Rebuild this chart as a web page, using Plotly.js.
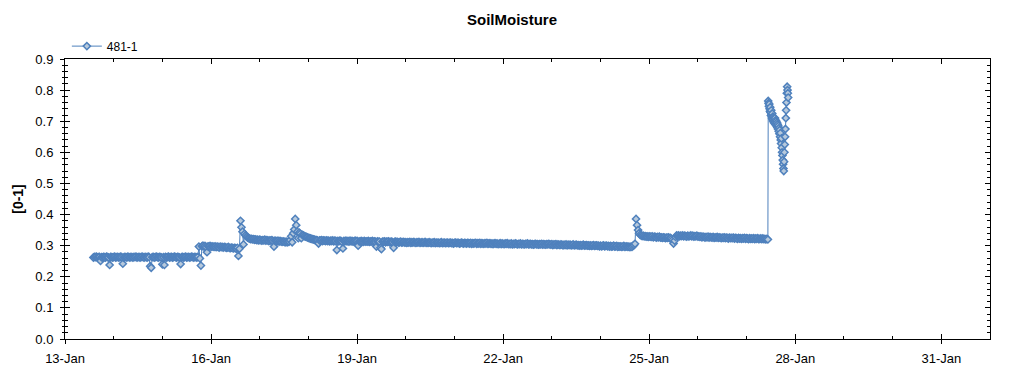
<!DOCTYPE html>
<html>
<head>
<meta charset="utf-8">
<script src="https://cdn.plot.ly/plotly-3.0.1.min.js"></script>
<style>html,body{margin:0;padding:0;background:#fff;}#chart{width:1024px;height:375px;}</style>
</head>
<body>
<div id="chart"></div>
<script>
// ---- data ----
var seriesName = '481-1';
var regularStart = '2014-01-13T14:00:00Z';   // logger, 30-minute interval
var regularStepMinutes = 30;
var moisture = [
.262,.264,.263,.265,.262,.263,.264,.251,.263,.262,
.264,.263,.262,.265,.263,.262,.238,.264,.263,.262,
.263,.265,.262,.263,.264,.262,.263,.265,.263,.242,
.262,.264,.263,.262,.265,.263,.262,.264,.263,.262,
.264,.263,.265,.262,.263,.264,.262,.263,.265,.263,
.262,.264,.263,.262,.265,.263,.234,.229,.263,.264,
.262,.263,.265,.263,.262,.264,.263,.262,.240,.263,
.238,.264,.262,.263,.265,.262,.263,.264,.262,.263,
.265,.263,.262,.264,.263,.262,.241,.263,.264,.262,
.263,.265,.262,.263,.264,.262,.263,.265,.263,.262,
.264,.263,.262,.264,.297,.259,.236,.298,.300,.297,
.299,.296,.279,.298,.297,.299,.296,.298,.297,.296,
.298,.295,.297,.296,.294,.297,.295,.296,.294,.296,
.295,.293,.294,.296,.293,.292,.294,.293,.291,.293,
.292,.290,.293,.267,.290,.380,.359,.345,.304,.338,
.333,.329,.326,.324,.323,.321,.322,.320,.321,.319,
.320,.318,.319,.317,.319,.318,.316,.318,.317,.319,
.316,.318,.317,.315,.317,.316,.318,.315,.297,.316,
.315,.314,.316,.313,.315,.314,.312,.314,.313,.311,
.313,.311,.312,.313,.318,.330,.311,.340,.352,.386,
.366,.345,.324,.342,.338,.324,.335,.333,.331,.329,
.328,.327,.325,.324,.323,.322,.321,.320,.319,.318,
.318,.317,.307,.317,.316,.318,.315,.317,.316,.315,
.317,.315,.316,.314,.316,.315,.317,.314,.316,.315,
.286,.315,.314,.316,.315,.313,.291,.315,.314,.316,
.314,.315,.313,.316,.314,.315,.313,.314,.316,.314,
.315,.300,.314,.313,.315,.314,.312,.315,.313,.314,
.313,.315,.312,.314,.313,.315,.312,.314,.313,.297,
.314,.312,.313,.293,.289,.313,.312,.314,.311,.313,
.312,.314,.311,.312,.313,.311,.293,.312,.313,.311,
.312,.310,.311,.313,.310,.311,.312,.310,.311,.309,
.311,.310,.312,.309,.311,.310,.312,.310,.309,.311,
.310,.312,.309,.310,.311,.309,.310,.312,.309,.310,
.309,.311,.310,.308,.310,.309,.311,.308,.310,.309,
.310,.308,.309,.311,.308,.309,.310,.308,.309,.310,
.308,.309,.310,.308,.309,.307,.309,.310,.308,.309,
.309,.307,.308,.310,.308,.307,.309,.308,.307,.309,
.308,.307,.309,.306,.308,.307,.308,.309,.306,.308,
.307,.309,.306,.308,.307,.306,.308,.307,.309,.306,
.307,.308,.306,.307,.305,.307,.308,.306,.307,.305,
.306,.308,.305,.307,.306,.305,.307,.306,.308,.305,
.306,.305,.307,.304,.306,.305,.307,.306,.304,.306,
.305,.307,.304,.306,.305,.304,.306,.305,.307,.304,
.305,.306,.304,.305,.303,.305,.306,.304,.305,.303,
.305,.304,.306,.303,.305,.304,.303,.305,.304,.306,
.304,.303,.305,.302,.304,.303,.305,.302,.304,.303,
.302,.304,.303,.301,.303,.302,.304,.301,.303,.302,
.303,.301,.302,.304,.301,.302,.303,.301,.302,.300,
.302,.300,.301,.303,.300,.301,.302,.300,.301,.299,
.301,.299,.300,.302,.299,.300,.301,.299,.300,.298,
.300,.298,.299,.301,.298,.299,.300,.298,.299,.297,
.299,.297,.298,.300,.297,.298,.299,.296,.298,.297,
.298,.296,.297,.299,.296,.297,.298,.296,.297,.295,
.297,.296,.299,.302,.306,.386,.366,.350,.340,.335,
.333,.331,.332,.330,.331,.329,.330,.328,.330,.329,
.328,.330,.327,.329,.328,.326,.328,.327,.329,.326,
.327,.325,.327,.326,.324,.326,.325,.327,.324,.325,
.322,.318,.307,.316,.328,.333,.331,.333,.330,.332,
.331,.333,.330,.332,.331,.329,.332,.330,.331,.333,
.330,.332,.329,.331,.330,.332,.329,.330,.328,.330,
.327,.329,.328,.326,.328,.327,.329,.326,.328,.327,
.326,.328,.325,.327,.326,.328,.325,.327,.326,.324,
.326,.325,.327,.324,.326,.325,.323,.326,.324,.325,
.324,.326,.323,.325,.324,.322,.325,.323,.324,.322,
.324,.323,.325,.322,.324,.323,.321,.324,.322,.323,
.322,.324,.321,.323,.322,.324,.321,.322,.323,.321,
.323,.321,.322,.320,.322,.320
];
var eventStart = '2014-01-27T10:40:00Z';     // logger switched to 10-minute interval
var eventStepMinutes = 10;
var eventMoisture = [
.765,.758,.748,.755,.740,.732,.745,.728,.718,.735,
.722,.710,.725,.705,.715,.700,.712,.695,.708,.698,
.710,.690,.703,.688,.700,.685,.695,.680,.690,.675,
.685,.668,.678,.660,.672,.650,.662,.640,.628,.645,
.615,.600,.590,.575,.562,.548,.540,.570,.600,.625,
.650,.675,.710,.735,.760,.790,.811,.800,.790,.776
];
var xRange = ['2014-01-13', '2014-02-01'];
var yRange = [0, 0.9];
var chartTitle = 'SoilMoisture';
var yTitle = '[0-1]';

// ---- build ----
function seriesTimes(start, stepMin, n) {
  var t0 = Date.parse(start), out = [];
  for (var i = 0; i < n; i++) {
    out.push(new Date(t0 + i * stepMin * 60000).toISOString().slice(0, 19).replace('T', ' '));
  }
  return out;
}
var xs = seriesTimes(regularStart, regularStepMinutes, moisture.length)
  .concat(seriesTimes(eventStart, eventStepMinutes, eventMoisture.length));
var ys = moisture.concat(eventMoisture);

var DAY = 86400000;
var FONT = 'Liberation Sans, Arial, sans-serif';

var traces = [
  {
    x: xs, y: ys, name: seriesName, type: 'scatter', mode: 'lines+markers',
    line: {color: '#4f81bd', width: 1},
    marker: {symbol: 'diamond', size: 5.5, color: '#b7c9dc', line: {color: '#4f81bd', width: 1.5}}
  },
  {x: [], y: [], xaxis: 'x2', yaxis: 'y2', showlegend: false, hoverinfo: 'skip', type: 'scatter'}
];

var layout = {
  width: 1024, height: 375,
  margin: {l: 65, r: 34, t: 59, b: 36},
  paper_bgcolor: '#fff', plot_bgcolor: '#fff',
  font: {family: FONT, size: 13, color: '#000'},
  title: {text: '<b>' + chartTitle + '</b>', font: {family: FONT, size: 15, color: '#000'},
          x: 0.5, xref: 'container', y: 1 - 20 / 375, yref: 'container', yanchor: 'middle'},
  showlegend: true,
  legend: {x: 0.002, xanchor: 'left', y: 1.046, yanchor: 'middle', yref: 'paper',
           font: {family: FONT, size: 12, color: '#000'}, bgcolor: 'rgba(0,0,0,0)', borderwidth: 0},
  xaxis: {
    type: 'date', range: xRange, tick0: xRange[0], dtick: 3 * DAY, tickformat: '%d-%b',
    ticks: 'outside', ticklen: 4, tickwidth: 1, tickcolor: '#000', ticklabelstandoff: 3,
    showline: true, linecolor: '#000', linewidth: 1, mirror: true,
    showgrid: false, zeroline: false, fixedrange: true,
    tickfont: {family: FONT, size: 13, color: '#000'}
  },
  yaxis: {
    range: yRange, dtick: 0.1, tick0: 0, tickformat: '.1f',
    ticks: 'outside', ticklen: 4, tickwidth: 1, tickcolor: '#000', ticklabelstandoff: 4,
    minor: {dtick: 0.02, ticks: 'outside', ticklen: 2, tickcolor: '#000', showgrid: false},
    showline: true, linecolor: '#000', linewidth: 1, mirror: true,
    showgrid: false, zeroline: false, fixedrange: true,
    tickfont: {family: FONT, size: 13, color: '#000'},
    title: {text: '<b>' + yTitle + '</b>', font: {family: FONT, size: 14, color: '#000'}, standoff: 8}
  },
  xaxis2: {
    type: 'date', range: xRange, overlaying: 'x', anchor: 'y2', side: 'bottom',
    tick0: xRange[0], dtick: 3 * DAY, ticks: 'inside', ticklen: 5, tickcolor: '#000',
    minor: {dtick: DAY, ticks: 'inside', ticklen: 3, tickcolor: '#000', showgrid: false},
    mirror: 'ticks', showline: false, showticklabels: false, showgrid: false, zeroline: false, fixedrange: true
  },
  yaxis2: {
    range: yRange, overlaying: 'y', anchor: 'x2', side: 'left',
    dtick: 0.1, tick0: 0, ticks: 'inside', ticklen: 5, tickcolor: '#000',
    minor: {dtick: 0.02, ticks: 'inside', ticklen: 3, tickcolor: '#000', showgrid: false},
    mirror: 'ticks', showline: false, showticklabels: false, showgrid: false, zeroline: false, fixedrange: true
  }
};

Plotly.newPlot('chart', traces, layout, {displayModeBar: false, staticPlot: true});
</script>
</body>
</html>
